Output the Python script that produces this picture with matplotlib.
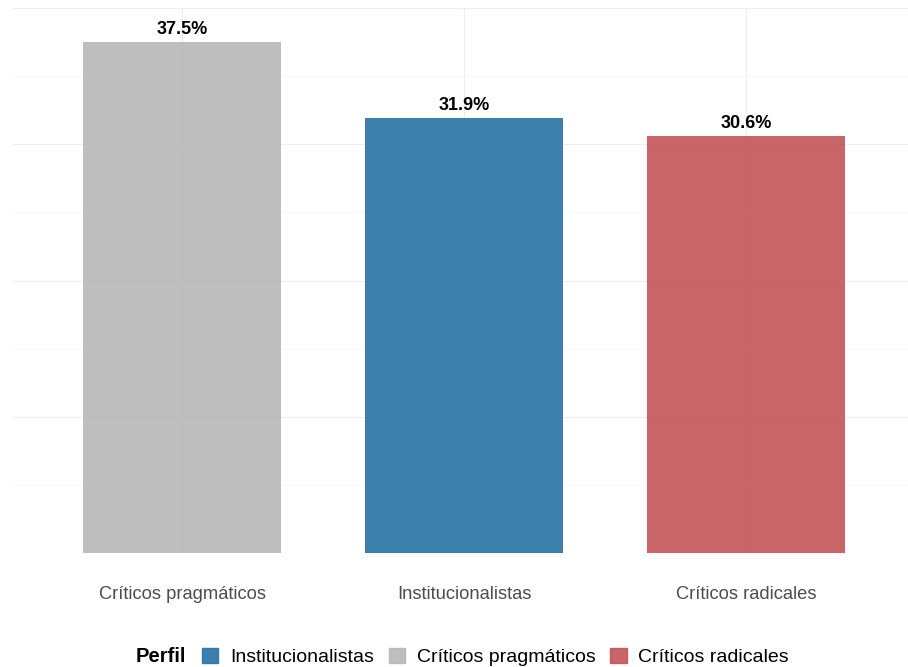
import matplotlib
matplotlib.use('agg')
import matplotlib.pyplot as plt
from matplotlib.patches import Patch

plt.rcParams['font.family'] = ['Liberation Sans', 'DejaVu Sans']

# data
perfiles = ['Críticos pragmáticos', 'Institucionalistas', 'Críticos radicales']
valores = [37.5, 31.9, 30.6]
colores = ['#B7B7B7', '#2773A4', '#C45358']
leyenda_orden = ['Institucionalistas', 'Críticos pragmáticos', 'Críticos radicales']

W, H = 908, 667
fig = plt.figure(figsize=(W / 100, H / 100), dpi=100)

# panel in pixel coords: x 13..915, y 8..553
x0, x1, y0, y1 = 13, 915, 8, 553
ax = fig.add_axes([x0 / W, 1 - y1 / H, (x1 - x0) / W, (y1 - y0) / H])

xs = [1, 2, 3]
ax.bar(xs, valores, width=0.7, color=colores, alpha=0.9, zorder=2)
for x, v in zip(xs, valores):
    ax.annotate(f'{v:.1f}%', (x, v), xytext=(0, 3), textcoords='offset points',
                ha='center', va='bottom', fontsize=13, fontweight='bold', color='black')

ax.set_xlim(0.4, 3.6)
ax.set_ylim(0, 40)
ax.set_yticks([0, 10, 20, 30, 40])
ax.set_yticks([5, 15, 25, 35], minor=True)
ax.grid(True, which='major', axis='y', color='#EEEEEE', lw=0.8, zorder=0)
ax.grid(True, which='minor', axis='y', color='#F6F6F6', lw=0.6, zorder=0)
ax.grid(True, which='major', axis='x', color='#EEEEEE', lw=0.8, zorder=0)
ax.set_xticks(xs)
ax.set_xticklabels(perfiles, fontsize=13.2, color='#4D4D4D')
ax.tick_params(axis='x', length=0, pad=24)
ax.tick_params(axis='y', which='both', length=0, labelleft=False)
for s in ax.spines.values():
    s.set_visible(False)

handles = [Patch(color=colores[perfiles.index(p)], alpha=0.9) for p in leyenda_orden]
fig.text(136 / W, 1 - 657 / H, 'Perfil', fontsize=14.5, fontweight='bold', va='center', ha='left')
fig.legend(handles, leyenda_orden, ncol=3, frameon=False, fontsize=14,
           loc='center left', bbox_to_anchor=(200 / W, 1 - 657 / H),
           handlelength=0.85, handleheight=0.85, handletextpad=0.6, columnspacing=0.75,
           borderaxespad=0, borderpad=0.1)

fig.savefig('out.png', dpi=100)
